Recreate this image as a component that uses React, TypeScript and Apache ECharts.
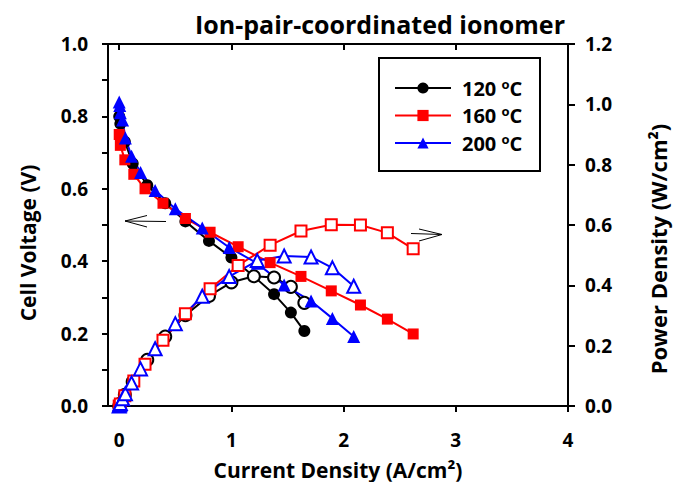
import React, { useEffect, useRef } from "react";
import * as echarts from "echarts";

const xTicks = [0, 1, 2, 3, 4];

const current120 = [0, 0.01, 0.05, 0.12, 0.25, 0.41, 0.59, 0.8, 1.0, 1.2, 1.38, 1.53, 1.65];
const voltage120 = [0.8, 0.78, 0.73, 0.67, 0.61, 0.56, 0.51, 0.456, 0.41, 0.358, 0.309, 0.258, 0.207];
const power120 = [0, 0.008, 0.037, 0.08, 0.153, 0.23, 0.301, 0.365, 0.41, 0.43, 0.426, 0.395, 0.342];

const current160 = [0, 0.01, 0.05, 0.13, 0.23, 0.39, 0.59, 0.81, 1.06, 1.345, 1.62, 1.89, 2.15, 2.39, 2.62];
const voltage160 = [0.75, 0.72, 0.68, 0.64, 0.6, 0.56, 0.518, 0.48, 0.44, 0.396, 0.358, 0.318, 0.279, 0.24, 0.199];
const power160 = [0, 0.007, 0.034, 0.083, 0.138, 0.218, 0.306, 0.389, 0.466, 0.533, 0.58, 0.601, 0.6, 0.574, 0.521];

const current200 = [0, 0.005, 0.01, 0.03, 0.055, 0.11, 0.19, 0.32, 0.5, 0.74, 0.98, 1.23, 1.47, 1.71, 1.9, 2.09];
const voltage200 = [0.84, 0.83, 0.81, 0.79, 0.74, 0.69, 0.645, 0.595, 0.545, 0.492, 0.438, 0.394, 0.334, 0.29, 0.242, 0.192];
const power200 = [0, 0.004, 0.008, 0.024, 0.041, 0.076, 0.123, 0.19, 0.273, 0.364, 0.429, 0.482, 0.497, 0.494, 0.458, 0.397];

const FONT = "'Open Sans', sans-serif";

const pairs = (xs: number[], ys: number[]) => xs.map((x, i) => [x, ys[i]]);

export default function App() {
  const ref = useRef<HTMLDivElement>(null);
  useEffect(() => {
    document.body.style.margin = "0";
    if (!ref.current) return;
    const chart = echarts.init(ref.current, null, { renderer: "svg" });
    const mk = (
      name: string,
      color: string,
      symbol: string,
      size: number,
      xs: number[],
      ys: number[],
      axis: number,
      open: boolean
    ) => ({
      type: "line",
      name,
      xAxisIndex: 0,
      yAxisIndex: axis,
      data: pairs(xs, ys),
      symbol,
      symbolSize: size,
      showAllSymbol: true,
      lineStyle: { color, width: 2 },
      itemStyle: open
        ? { color: "#ffffff", borderColor: color, borderWidth: 2 }
        : { color, borderColor: color, borderWidth: 0 },
      z: 2,
    });
    const nameStyle = { fontFamily: FONT, fontSize: 21, fontWeight: "bold", fill: "#000" };
    chart.setOption({
      animation: false,
      backgroundColor: "#ffffff",
      title: {
        text: "Ion-pair-coordinated ionomer",
        left: 375,
        top: 6,
        textAlign: "center",
        textStyle: { fontFamily: FONT, fontSize: 25, fontWeight: "bold", color: "#000" },
      },
      grid: {
        left: 108,
        right: 105,
        top: 44,
        bottom: 76,
        containLabel: false,
        outerBoundsMode: "none",
      },
      legend: {
        data: ["120 °C", "160 °C", "200 °C"],
        orient: "vertical",
        left: 394,
        top: 77,
        itemWidth: 56,
        itemHeight: 14,
        itemGap: 6.5,
        padding: 0,
        textStyle: {
          fontFamily: FONT,
          fontSize: 20,
          fontWeight: "bold",
          color: "#000",
          padding: [0, 0, 0, 6],
          rich: {
            a: { fontFamily: FONT, fontSize: 20, fontWeight: "bold", color: "#000", lineHeight: 22 },
            s: { fontFamily: FONT, fontSize: 13, fontWeight: "bold", color: "#000", lineHeight: 22, verticalAlign: "top" },
          },
        },
        formatter: (name: string) => `{a|${name.replace(" °C", "")} }{s|o}{a|C}`,
      },
      graphic: [
        {
          type: "rect",
          shape: { x: 379, y: 58, width: 161, height: 113 },
          style: { fill: "none", stroke: "#000", lineWidth: 2 },
          z: 10,
        },
        {
          type: "polyline",
          shape: { points: [[147, 215.5], [125, 221], [147, 227]] },
          style: { fill: "none", stroke: "#000", lineWidth: 1 },
        },
        {
          type: "line",
          shape: { x1: 125, y1: 221, x2: 166, y2: 221.5 },
          style: { stroke: "#000", lineWidth: 1 },
        },
        {
          type: "polyline",
          shape: { points: [[419, 229], [442, 234.5], [419, 241]] },
          style: { fill: "none", stroke: "#000", lineWidth: 1 },
        },
        {
          type: "line",
          shape: { x1: 411, y1: 233.5, x2: 442, y2: 234.5 },
          style: { stroke: "#000", lineWidth: 1 },
        },
        {
          type: "text",
          x: 28,
          y: 243,
          rotation: Math.PI / 2,
          style: { ...nameStyle, text: "Cell Voltage (V)", align: "center", verticalAlign: "middle" },
        },
        {
          type: "text",
          x: 658,
          y: 249,
          rotation: Math.PI / 2,
          style: { ...nameStyle, fontSize: 22, text: "Power Density (W/cm²)", align: "center", verticalAlign: "middle" },
        },
      ],
      xAxis: [
        {
          type: "value",
          position: "bottom",
          min: -0.1,
          max: 4,
          name: "Current Density (A/cm²)",
          nameLocation: "middle",
          nameGap: 53,
          nameTextStyle: { fontFamily: FONT, fontSize: 21, fontWeight: "bold", color: "#000" },
          axisLine: { show: true, onZero: false, lineStyle: { color: "#000", width: 2 } },
          axisTick: { show: true, inside: false, length: 6, lineStyle: { width: 2, color: "#000" }, customValues: xTicks },
          axisLabel: {
            customValues: xTicks,
            showMaxLabel: true,
            showMinLabel: true,
            margin: 24,
            fontFamily: FONT,
            fontSize: 19,
            fontWeight: "bold",
            color: "#000",
          },
          splitLine: { show: false },
        },
        {
          type: "value",
          position: "top",
          min: -0.1,
          max: 4,
          axisLine: { show: true, onZero: false, lineStyle: { color: "#000", width: 2 } },
          axisTick: { show: true, inside: true, length: 6, lineStyle: { width: 2, color: "#000" }, customValues: [0, 1, 2, 3] },
          axisLabel: { show: false },
          splitLine: { show: false },
        },
      ],
      yAxis: [
        {
          type: "value",
          position: "left",
          min: 0,
          max: 1,
          interval: 0.2,
          axisLine: { show: true, onZero: false, lineStyle: { color: "#000", width: 2 } },
          axisTick: { show: true, inside: false, length: 6, lineStyle: { width: 2, color: "#000" } },
          minorTick: { show: true, splitNumber: 2, length: 6, lineStyle: { width: 2, color: "#000" } },
          axisLabel: {
            margin: 20,
            formatter: (v: number) => v.toFixed(1),
            fontFamily: FONT,
            fontSize: 19,
            fontWeight: "bold",
            color: "#000",
          },
          splitLine: { show: false },
        },
        {
          type: "value",
          position: "right",
          min: 0,
          max: 1.2,
          interval: 0.2,
          axisLine: { show: true, onZero: false, lineStyle: { color: "#000", width: 2 } },
          axisTick: { show: true, inside: false, length: 7, lineStyle: { width: 2, color: "#000" } },
          axisLabel: {
            margin: 17,
            formatter: (v: number) => v.toFixed(1),
            fontFamily: FONT,
            fontSize: 19,
            fontWeight: "bold",
            color: "#000",
          },
          splitLine: { show: false },
        },
      ],
      series: [
        mk("120 °C", "#000000", "circle", 12, current120, voltage120, 0, false),
        mk("P120", "#000000", "circle", 12, current120, power120, 1, true),
        mk("160 °C", "#ff0000", "rect", 11, current160, voltage160, 0, false),
        mk("P160", "#ff0000", "rect", 11, current160, power160, 1, true),
        mk("200 °C", "#0000ff", "triangle", 13, current200, voltage200, 0, false),
        mk("P200", "#0000ff", "triangle", 13, current200, power200, 1, true),
      ],
    } as any);
    return () => chart.dispose();
  }, []);
  return <div ref={ref} style={{ width: 673, height: 482 }} />;
}
